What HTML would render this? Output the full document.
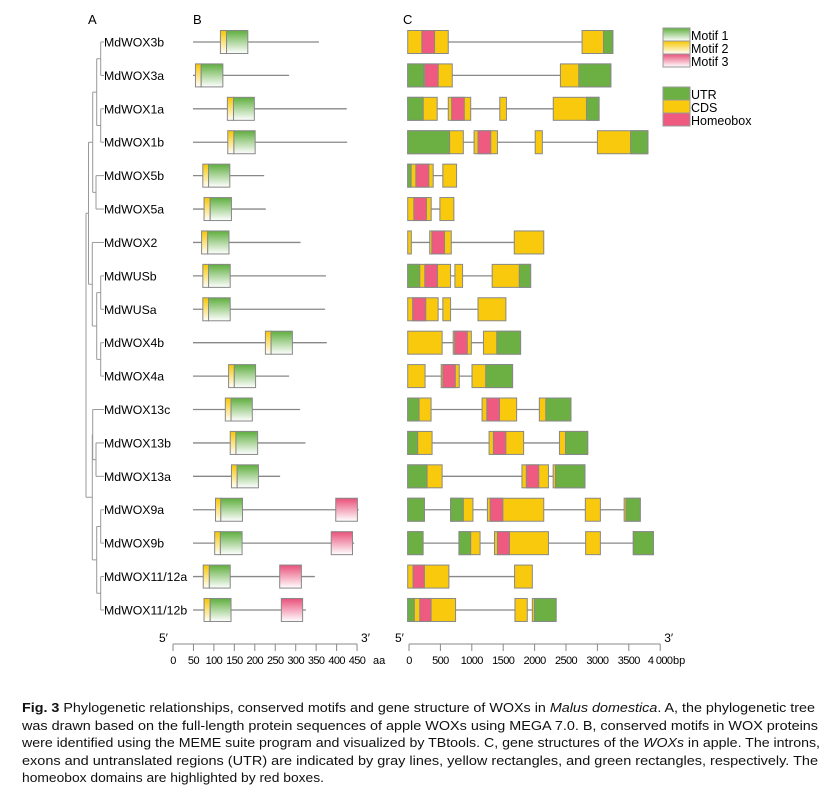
<!DOCTYPE html>
<html><head><meta charset="utf-8"><style>
html,body{margin:0;padding:0;background:#fff;}
svg{display:block;font-family:"Liberation Sans",Arial,sans-serif;}
</style></head><body>
<svg id="fig" width="833" height="792" viewBox="0 0 833 792" xmlns="http://www.w3.org/2000/svg">
<defs>
<linearGradient id="gGreen" x1="0" y1="0" x2="0" y2="1"><stop offset="0" stop-color="#5fae3e"/><stop offset="1" stop-color="#ffffff"/></linearGradient>
<linearGradient id="gYellow" x1="0" y1="0" x2="0" y2="1"><stop offset="0" stop-color="#f7c600"/><stop offset="1" stop-color="#ffffff"/></linearGradient>
<linearGradient id="gPink" x1="0" y1="0" x2="0" y2="1"><stop offset="0" stop-color="#e9507a"/><stop offset="1" stop-color="#ffffff"/></linearGradient>
</defs>
<text x="88" y="24" font-size="13">A</text>
<text x="193" y="24" font-size="13">B</text>
<text x="403" y="24" font-size="13">C</text>
<g id="tree"></g>
<g id="labels"></g>
<g id="motifs"></g>
<g id="genes"></g>
<g id="axes"></g>
<g id="legend">
  <rect x="663" y="28" width="27" height="13" fill="url(#gGreen)" stroke="#999"/>
  <text x="691" y="40" font-size="12.5">Motif 1</text>
  <rect x="663" y="41" width="27" height="13" fill="url(#gYellow)" stroke="#999"/>
  <text x="691" y="53" font-size="12.5">Motif 2</text>
  <rect x="663" y="54" width="27" height="13" fill="url(#gPink)" stroke="#999"/>
  <text x="691" y="66" font-size="12.5">Motif 3</text>
  <rect x="663" y="87" width="27" height="13" fill="#6cb043" stroke="#999"/>
  <text x="691" y="99" font-size="12.5">UTR</text>
  <rect x="663" y="100" width="27" height="13" fill="#f9c90e" stroke="#999"/>
  <text x="691" y="112" font-size="12.5">CDS</text>
  <rect x="663" y="113" width="27" height="13" fill="#ee5a80" stroke="#999"/>
  <text x="691" y="125" font-size="12.5">Homeobox</text>
</g>
<g font-size="12.5" fill="#111">
  <text x="22" y="712" textLength="793" lengthAdjust="spacingAndGlyphs"><tspan font-weight="bold">Fig. 3</tspan>  Phylogenetic relationships, conserved motifs and gene structure of WOXs in <tspan font-style="italic">Malus domestica</tspan>.  A, the phylogenetic tree</text>
  <text x="22" y="730" textLength="796" lengthAdjust="spacingAndGlyphs">was drawn based on the full-length protein sequences of apple WOXs using MEGA 7.0.  B, conserved motifs in WOX proteins</text>
  <text x="22" y="747" textLength="798" lengthAdjust="spacingAndGlyphs">were identified using the MEME suite program and visualized by TBtools.  C, gene structures of the <tspan font-style="italic">WOXs</tspan> in apple.  The introns,</text>
  <text x="22" y="765" textLength="796" lengthAdjust="spacingAndGlyphs">exons and untranslated regions (UTR) are indicated by gray lines, yellow rectangles, and green rectangles, respectively.  The</text>
  <text x="22" y="782" textLength="302" lengthAdjust="spacingAndGlyphs">homeobox domains are highlighted by red boxes.</text>
</g>
</svg>
<script>
// ---- data ----
const geneNames = ["MdWOX3b","MdWOX3a","MdWOX1a","MdWOX1b","MdWOX5b","MdWOX5a","MdWOX2","MdWUSb","MdWUSa","MdWOX4b","MdWOX4a","MdWOX13c","MdWOX13b","MdWOX13a","MdWOX9a","MdWOX9b","MdWOX11/12a","MdWOX11/12b"];
// protein lengths (aa)
const proteinLen = [308,235,376,377,174,178,263,325,323,327,235,262,275,213,405,394,298,276];
// motif 2 start, motif 1 start, motif 1 end (aa)
const motif2Start = [67,6,84,85,24,27,21,24,24,177,87,79,91,94,55,53,25,27];
const motif1Start = [82,20,99,100,38,42,36,38,38,191,101,93,105,108,68,67,40,42];
const motif1End = [134,73,150,152,90,94,88,91,91,243,153,145,158,160,121,120,91,93];
// motif 3 [start,end] (aa) or null
const motif3 = [null,null,null,null,null,null,null,null,null,null,null,null,null,null,[349,402],[338,390],[212,265],[216,268]];
// gene structure (bp)
const exons = [
 [[0,649],[2790,3282]],
 [[0,713],[2443,3250]],
 [[0,472],[649,1008],[1473,1580],[2329,3062]],
 [[0,890],[1062,1436],[2040,2154],[3035,3844]],
 [[0,408],[562,782]],
 [[0,376],[515,739]],
 [[0,58],[352,697],[1705,2177]],
 [[0,686],[755,878],[1351,1967]],
 [[0,487],[562,686],[1125,1571]],
 [[0,551],[728,1018],[1212,1806]],
 [[0,278],[536,825],[1029,1678]],
 [[0,374],[1190,1743],[2106,2612]],
 [[0,390],[1302,1855],[2428,2880]],
 [[0,551],[1828,2252],[2327,2836]],
 [[0,267],[686,1044],[1275,2177],[2842,3083],[3463,3721]],
 [[0,246],[820,1158],[1389,2252],[2847,3083],[3609,3931]],
 [[0,659],[1710,1994]],
 [[0,766],[1716,1913],[1994,2375]]
];
const utrs = [
 [[3133,3282]],
 [[0,258],[2737,3250]],
 [[0,248],[2860,3062]],
 [[0,670],[3566,3844]],
 [[0,55]],
 [],
 [],
 [[0,193],[1785,1967]],
 [],
 [[1425,1806]],
 [[1248,1678]],
 [[0,182],[2209,2612]],
 [[0,160],[2525,2880]],
 [[0,310],[2364,2836]],
 [[0,267],[686,890],[3492,3721]],
 [[0,246],[820,1008],[3609,3931]],
 [],
 [[0,106],[2027,2375]]
];
const homeobox = [[226,430],[273,488],[703,905],[1125,1329],[130,338],[98,300],[386,589],[273,477],[79,289],[751,954],[562,762],[1266,1469],[1371,1571],[1898,2097],[1319,1523],[1436,1629],[85,267],[193,374]];
const aaTicks = [0,50,100,150,200,250,300,350,400,450];
const bpTicks = [0,500,1000,1500,2000,2500,3000,3500,4000];
const bpTickLabels = ["0","500","1000","1500","2000","2500","3000","3500","4 000"];

// ---- scales ----
const NS="http://www.w3.org/2000/svg";
function rowY(i){return 42+i*33.41;}
function mx(aa){return 193+aa*0.409;}
function gx(bp){return 407.7+bp*0.0625;}
function axA(aa){return 173+aa*0.409;}
function axC(bp){return 409+bp*0.0628;}
function mk(tag,attrs,parent){const e=document.createElementNS(NS,tag);for(const k in attrs)e.setAttribute(k,attrs[k]);parent.appendChild(e);return e;}

const gTree=document.getElementById('tree');
const gLab=document.getElementById('labels');
const gMot=document.getElementById('motifs');
const gGen=document.getElementById('genes');
const gAx=document.getElementById('axes');
const H=23;

// tree
const treeNodes=[
 [100.7,rowY(0),rowY(1)],[100.7,rowY(2),rowY(3)],[96.7,(rowY(0)+rowY(1))/2,(rowY(2)+rowY(3))/2],
 [96,rowY(4),rowY(5)],[92.7,((rowY(0)+rowY(1))/2+(rowY(2)+rowY(3))/2)/2,(rowY(4)+rowY(5))/2],
 [100.7,rowY(7),rowY(8)],[100.7,rowY(9),rowY(10)],[96.7,(rowY(7)+rowY(8))/2,(rowY(9)+rowY(10))/2],
 [92.3,rowY(6),((rowY(7)+rowY(8))/2+(rowY(9)+rowY(10))/2)/2],
 [96,rowY(12),rowY(13)],[92.7,rowY(11),(rowY(12)+rowY(13))/2],
 [100.7,rowY(14),rowY(15)],[100.7,rowY(16),rowY(17)],[96.7,(rowY(14)+rowY(15))/2,(rowY(16)+rowY(17))/2]
];
const leafX=[100.7,100.7,100.7,100.7,96,96,92.3,100.7,100.7,100.7,100.7,92.7,96,96,100.7,100.7,100.7,100.7];
treeNodes.forEach((n,k)=>{
  const l=mk('path',{d:`M${n[0]},${n[1]}V${n[2]}`,stroke:'#999','stroke-width':1,fill:'none'},gTree);
  
  
});
const conn=[[96.7,100.7,(rowY(0)+rowY(1))/2],[96.7,100.7,(rowY(2)+rowY(3))/2],[92.7,96.7,treeNodes[2][1]/2+treeNodes[2][2]/2],[92.7,96,(rowY(4)+rowY(5))/2],
 [96.7,100.7,(rowY(7)+rowY(8))/2],[96.7,100.7,(rowY(9)+rowY(10))/2],[92.3,96.7,(treeNodes[7][1]+treeNodes[7][2])/2],
 [92.7,96,(rowY(12)+rowY(13))/2],[96.7,100.7,(rowY(14)+rowY(15))/2],[96.7,100.7,(rowY(16)+rowY(17))/2]];
const yA1=(treeNodes[4][1]+treeNodes[4][2])/2, yA2=(treeNodes[8][1]+treeNodes[8][2])/2;
const yB1=(treeNodes[10][1]+treeNodes[10][2])/2, yB2=(treeNodes[13][1]+treeNodes[13][2])/2;
const yA=(yA1+yA2)/2, yB=(yB1+yB2)/2;
conn.push([88.5,92.7,yA1],[88.5,92.3,yA2],[92.3,92.7,yB1],[92.3,96.7,yB2],[86,88.5,yA],[86,92.3,yB]);
let dExtra=`M88.5,${yA1}V${yA2}M92.3,${yB1}V${yB2}M86,${yA}V${yB}`;
conn.forEach(c=>{dExtra+=`M${c[0]},${c[2]}H${c[1]}`;});
const ex=mk('path',{d:dExtra,stroke:'#999','stroke-width':1,fill:'none'},gTree);



geneNames.forEach((name,i)=>{
  const y=rowY(i);
  const tip=mk('path',{d:`M${leafX[i]},${y}H104`,stroke:'#999','stroke-width':1},gTree);
  
  
  const t=mk('text',{x:104,y:y+4.5,'font-size':12.3},gLab);
  t.textContent=name;
  
  

  const g=mk('g',{},gMot);
  
  
  mk('line',{x1:mx(0),x2:mx(proteinLen[i]),y1:y,y2:y,stroke:'#888','stroke-width':1.3},g);
  const r2=mk('rect',{x:mx(motif2Start[i]),y:y-H/2,width:mx(motif1Start[i])-mx(motif2Start[i]),height:H,fill:'url(#gYellow)',stroke:'#888','stroke-width':1},g);
  
  
  const r1=mk('rect',{x:mx(motif1Start[i]),y:y-H/2,width:mx(motif1End[i])-mx(motif1Start[i]),height:H,fill:'url(#gGreen)',stroke:'#888','stroke-width':1},g);
  
  
  if(motif3[i]){
    const r3=mk('rect',{x:mx(motif3[i][0]),y:y-H/2,width:mx(motif3[i][1])-mx(motif3[i][0]),height:H,fill:'url(#gPink)',stroke:'#888','stroke-width':1},g);
    
    
  }

  const gg=mk('g',{},gGen);
  
  
  const ex=exons[i];
  mk('line',{x1:gx(ex[0][0]),x2:gx(ex[ex.length-1][1]),y1:y,y2:y,stroke:'#888','stroke-width':1.3},gg);
  ex.forEach(e=>{
    const r=mk('rect',{x:gx(e[0]),y:y-H/2,width:gx(e[1])-gx(e[0]),height:H,fill:'#f9c90e',stroke:'#888','stroke-width':1},gg);
    
    
  });
  utrs[i].forEach(e=>{
    const r=mk('rect',{x:gx(e[0]),y:y-H/2,width:gx(e[1])-gx(e[0]),height:H,fill:'#6cb043',stroke:'#888','stroke-width':1},gg);
    
    
  });
  const hb=homeobox[i];
  const rh=mk('rect',{x:gx(hb[0]),y:y-H/2,width:gx(hb[1])-gx(hb[0]),height:H,fill:'#ee5a80',stroke:'#888','stroke-width':1},gg);
  
  
});

const axY=644;
function axis(fn,ticks,labels,x0,x1,unit,unitX,nm){
  const g=mk('g',{},gAx);
  
  
  let d=`M${x0},${axY}H${x1}`;
  ticks.forEach(v=>{d+=`M${fn(v)},${axY}V${axY+7}`;});
  mk('path',{d:d,stroke:'#888','stroke-width':1,fill:'none'},g);
  ticks.forEach((v,k)=>{
    const t=mk('text',{x:fn(v),y:axY+20,'font-size':11,'text-anchor':'middle','letter-spacing':'-0.6'},g);
    t.textContent=labels[k];
    
    
  });
  const u=mk('text',{x:unitX,y:axY+20,'font-size':11},g);
  u.textContent=unit;
  const a=mk('text',{x:x0-14,y:axY-2,'font-size':12},g); a.textContent="5\u2032";
  const b=mk('text',{x:x1+4,y:axY-2,'font-size':12},g); b.textContent="3\u2032";
}
axis(axA,aaTicks,aaTicks.map(String),axA(aaTicks[0]),axA(aaTicks[aaTicks.length-1]),"aa",373,"motif-scale-axis");
axis(axC,bpTicks,bpTickLabels,axC(bpTicks[0]),axC(bpTicks[bpTicks.length-1]),"bp",673,"gene-scale-axis");
</script>
</body></html>
